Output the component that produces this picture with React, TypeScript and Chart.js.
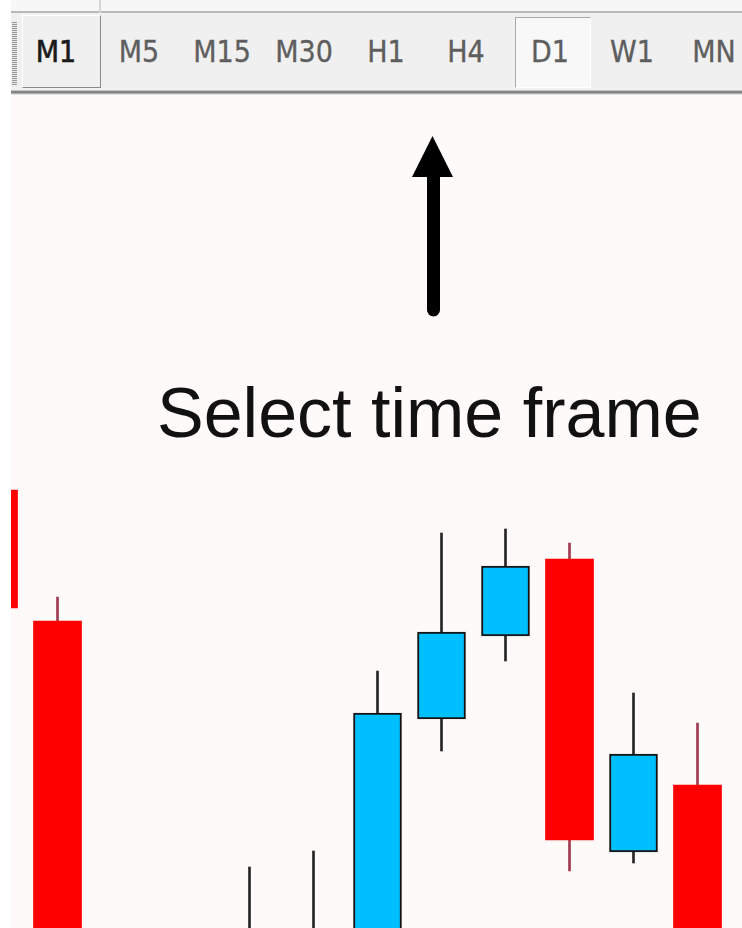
import React, { useEffect, useRef } from "react";
import { Chart, registerables } from "chart.js";

Chart.register(...registerables);

// ---- Data ----
const candleIndex = [0, 1, 2, 3, 4, 5, 6, 7, 8, 9, 10, 11];
const opens = [1.1438, 1.1307, 1.0905, 1.0975, 1.0935, 1.097, 1.098, 1.1209, 1.1292, 1.1369, 1.1076, 1.1143];
const highs = [1.1452, 1.1331, 1.0985, 1.099, 1.1061, 1.1077, 1.1257, 1.1395, 1.1399, 1.1385, 1.1235, 1.1205];
const lows = [1.13, 1.088, 1.089, 1.0915, 1.092, 1.0955, 1.0965, 1.1177, 1.1267, 1.1057, 1.1065, 1.0935];
const closes = [1.132, 1.09, 1.096, 1.093, 1.0985, 1.0992, 1.1215, 1.1296, 1.1362, 1.1088, 1.1174, 1.095];

const timeframes = ["M1", "M5", "M15", "M30", "H1", "H4", "D1", "W1", "MN"];
const caption = "Select time frame";

// ---- Layout (not data) ----
const tfCenters = [56, 139, 222, 304, 386, 466, 550, 632, 714];
const X_MIN = 17.5 / 64;
const X_MAX = X_MIN + 731 / 64;
const Y_MIN = 1.1;
const Y_MAX = 1.1833;

const BULL = "#00bfff";
const BEAR = "#ff0000";

export default function App() {
  const canvasRef = useRef<HTMLCanvasElement | null>(null);

  useEffect(() => {
    if (!canvasRef.current) return;
    const isBull = candleIndex.map((_, i) => closes[i] >= opens[i]);
    const chart = new Chart(canvasRef.current, {
      type: "bar",
      data: {
        datasets: [
          {
            label: "body",
            data: candleIndex.map((x, i) => ({ x, y: [opens[i], closes[i]] })) as any,
            backgroundColor: isBull.map((b) => (b ? BULL : BEAR)),
            borderColor: isBull.map((b) => (b ? "#141414" : BEAR)),
            borderWidth: isBull.map((b) => (b ? 2 : 0)),
            borderSkipped: false,
            grouped: false,
            barPercentage: 1,
            categoryPercentage: 1,
            maxBarThickness: 48,
          } as any,
          {
            label: "wick",
            data: candleIndex.map((x, i) => ({ x, y: [lows[i], highs[i]] })) as any,
            backgroundColor: isBull.map((b) => (b ? "#262626" : "#a03a50")),
            borderWidth: 0,
            grouped: false,
            barPercentage: 1,
            categoryPercentage: 1,
            maxBarThickness: 2,
          } as any,
        ],
      },
      options: {
        animation: false,
        responsive: true,
        maintainAspectRatio: false,
        layout: { padding: 0 },
        plugins: { legend: { display: false }, tooltip: { enabled: false } },
        events: [],
        scales: {
          x: {
            type: "linear",
            display: false,
            offset: false,
            min: X_MIN,
            max: X_MAX,
            afterBuildTicks: (scale: any) => {
              scale.ticks = candleIndex.map((v) => ({ value: v }));
            },
          },
          y: {
            type: "linear",
            display: false,
            min: Y_MIN,
            max: Y_MAX,
          },
        },
      },
    });
    return () => chart.destroy();
  }, []);

  const tfFont = '"Liberation Sans Narrow", "DejaVu Sans Condensed", "Liberation Sans", sans-serif';

  return (
    <div
      style={{
        position: "absolute",
        left: 0,
        top: 0,
        width: 742,
        height: 928,
        overflow: "hidden",
        background: "#ffffff",
      }}
    >
      {/* Toolbar */}
      <div style={{ position: "absolute", left: 11, top: 0, width: 731, height: 11, background: "#f7f7f7" }} />
      <div style={{ position: "absolute", left: 11, top: 11, width: 731, height: 2, background: "#b9b9b9" }} />
      <div style={{ position: "absolute", left: 11, top: 13, width: 731, height: 77, background: "#f0f0f0" }} />
      <div style={{ position: "absolute", left: 11, top: 90, width: 731, height: 1, background: "#c4c4c4" }} />
      <div style={{ position: "absolute", left: 11, top: 91, width: 731, height: 2, background: "#858585" }} />
      <div style={{ position: "absolute", left: 11, top: 93, width: 731, height: 1, background: "#acacac" }} />
      <div style={{ position: "absolute", left: 11, top: 94, width: 731, height: 1, background: "#e2e2e2" }} />
      <div style={{ position: "absolute", left: 99, top: 0, width: 2, height: 13, background: "#d6d6d6" }} />
      {/* grip */}
      <div
        style={{
          position: "absolute",
          left: 12,
          top: 22,
          width: 5,
          height: 63,
          background: "repeating-linear-gradient(to bottom, #9a9a9a 0px, #9a9a9a 1px, #e8e8e8 1px, #e8e8e8 2px)",
        }}
      />
      {/* M1 pressed button */}
      <div
        style={{
          position: "absolute",
          left: 22,
          top: 15,
          width: 77,
          height: 71,
          borderTop: "1px solid #ffffff",
          borderLeft: "1px solid #ffffff",
          borderRight: "1px solid #8a8a8a",
          borderBottom: "1px solid #8a8a8a",
          background: "#f0f0f0",
        }}
      />
      {/* D1 active button */}
      <div
        style={{
          position: "absolute",
          left: 515,
          top: 17,
          width: 74,
          height: 69,
          borderTop: "1px solid #a8a8a8",
          borderLeft: "1px solid #a8a8a8",
          borderRight: "1px solid #ffffff",
          borderBottom: "1px solid #ffffff",
          background: "#f8f8f8",
        }}
      />
      {timeframes.map((tf, i) => (
        <div
          key={tf}
          style={{
            position: "absolute",
            left: tfCenters[i],
            top: 36,
            transform: "translateX(-50%)",
            fontFamily: tfFont,
            fontSize: 30,
            lineHeight: "32px",
            color: i === 0 ? "#1a1a1a" : "#5e5e5e",
            whiteSpace: "nowrap",
            WebkitTextStroke: i === 0 ? "0.6px #1a1a1a" : "0.3px #5e5e5e",
          }}
        >
          {tf}
        </div>
      ))}

      {/* Chart area */}
      <div
        style={{
          position: "absolute",
          left: 11,
          top: 95,
          width: 731,
          height: 833,
          background: "#fffafa",
        }}
      >
        <canvas ref={canvasRef} />
      </div>

      {/* Arrow */}
      <svg
        width={742}
        height={928}
        style={{ position: "absolute", left: 0, top: 0, pointerEvents: "none" }}
      >
        <polygon points="432.5,136 412,177 453,177" fill="#000" />
        <line x1={433.5} y1={170} x2={433.5} y2={310} stroke="#000" strokeWidth={13} strokeLinecap="round" />
      </svg>

      {/* Caption */}
      <div
        style={{
          position: "absolute",
          left: 157,
          top: 379,
          fontFamily: '"Liberation Sans", Arial, sans-serif',
          fontSize: 70,
          lineHeight: "69px",
          color: "#111",
          whiteSpace: "nowrap",
        }}
      >
        {caption}
      </div>
    </div>
  );
}
